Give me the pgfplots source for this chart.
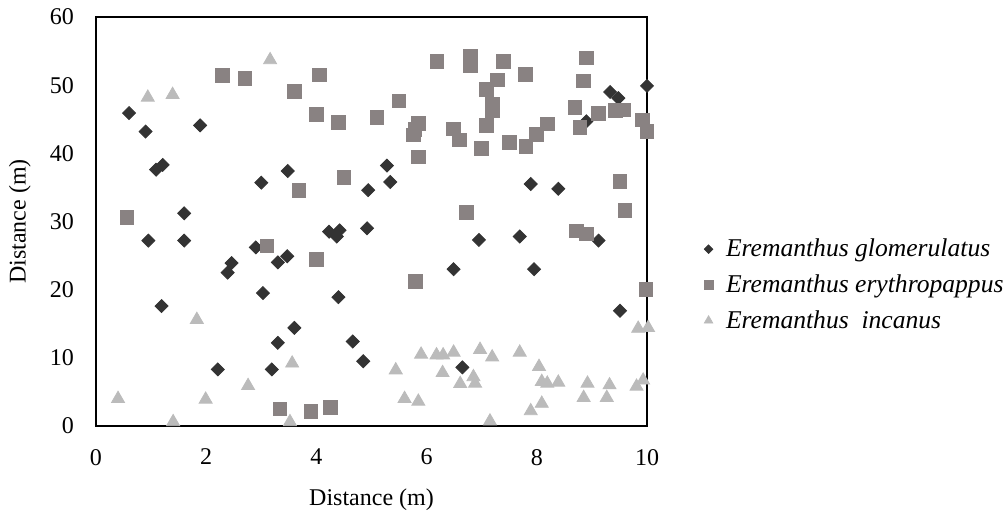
\documentclass[border=0pt]{standalone}
\usepackage{fontspec}
\setmainfont{Liberation Serif}
\usepackage{pgfplots}
\pgfplotsset{compat=1.18}
\usetikzlibrary{calc}
\definecolor{glom}{RGB}{51,51,51}
\definecolor{eryt}{RGB}{137,130,130}
\definecolor{inca}{RGB}{187,187,187}
\begin{document}
\begin{tikzpicture}
\begin{axis}[
    name=ax,
    scale only axis,
    width=275.5pt,
    height=204.5pt,
    xmin=0, xmax=10,
    ymin=0, ymax=60,
    xtick={0,2,...,10},
    ytick={0,10,...,60},
    major tick length=0pt,
    axis line style={line width=1.2pt},
    clip=false,
    font=\fontsize{12}{14}\selectfont,
    /pgf/number format/assume math mode=true,
    yticklabel style={xshift=-7.5pt},
    xticklabel style={yshift=-8pt},
    xlabel={Distance (m)},
    ylabel={Distance (m)},
    xlabel style={at={(axis description cs:0.5,-0.181)}, anchor=center},
    ylabel style={at={(axis description cs:-0.138,0.5)}, anchor=center, rotate=0},
    legend style={draw=none, fill=none, font=\fontsize{12.8}{14.5}\selectfont\itshape,
        at={(axis description cs:1.103,0.345)}, anchor=west,
        row sep=3.5pt, inner sep=0pt,
        /tikz/every odd column/.append style={column sep=4.5pt}},
    legend image post style={every mark/.append style={scale=0.65}},
    legend cell align=left,
]

\addplot[only marks, mark=square*, mark size=2.3pt, mark options={rotate=45, fill=glom, draw=glom}] coordinates {
(0.60,45.9) (0.90,43.2) (1.09,37.6) (1.21,38.3) (1.89,44.1)
(0.95,27.2) (1.60,31.2) (1.60,27.2) (1.19,17.6) (2.21,8.3)
(2.39,22.5) (2.46,23.9) (2.90,26.2) (3.00,35.7) (3.03,19.5)
(3.19,8.3) (3.30,24.0) (3.30,12.2) (3.47,24.9) (3.48,37.4)
(3.60,14.4) (4.23,28.5) (4.42,28.7) (4.37,27.8) (4.40,18.9)
(4.66,12.4) (4.85,9.5) (4.92,29.0) (4.94,34.6) (5.28,38.2)
(5.34,35.8) (6.49,23.0) (6.65,8.6) (6.95,27.3) (7.69,27.8)
(7.89,35.5) (7.95,23.0) (8.39,34.8) (8.90,44.7) (9.12,27.2)
(9.33,49.0) (9.48,48.1) (9.51,16.9) (10.0,49.9)
};
\addlegendentry{Eremanthus glomerulatus}

\addplot[only marks, mark=square*, mark size=3.4pt, mark options={fill=eryt, draw=eryt}] coordinates {
(0.56,30.6) (2.29,51.4) (2.70,51.0) (3.10,26.4) (3.34,2.5)
(3.60,49.1) (3.68,34.6) (3.90,2.15) (4.00,24.4) (4.00,45.7)
(4.05,51.5) (4.25,2.7) (4.40,44.5) (4.50,36.5) (5.10,45.3)
(5.50,47.7) (5.76,42.7) (5.79,43.5) (5.80,21.2) (5.85,44.4)
(5.85,39.5) (6.19,53.5) (6.49,43.6) (6.59,42.0) (6.72,31.3)
(6.79,54.2) (6.79,52.8) (6.99,40.7) (7.09,49.4) (7.09,44.1)
(7.19,47.2) (7.19,46.3) (7.29,50.8) (7.39,53.5) (7.50,41.6)
(7.79,51.6) (7.80,41.0) (7.99,42.8) (8.19,44.3) (8.69,46.7)
(8.72,28.6) (8.78,43.8) (8.85,50.6) (8.90,54.0) (8.90,28.2)
(9.12,45.9) (9.43,46.3) (9.51,35.9) (9.57,46.4) (9.60,31.6)
(9.92,44.9) (9.98,20.0) (10.0,43.2)
};
\addlegendentry{Eremanthus erythropappus}

\addplot[only marks, mark=triangle*, mark size=3.75pt, mark options={fill=inca, draw=inca}] coordinates {
(0.40,4.0) (0.94,48.2) (1.39,48.6) (1.40,0.6) (1.83,15.6)
(1.99,3.9) (2.76,5.9) (3.16,53.7) (3.52,0.6) (3.56,9.2)
(5.44,8.2) (5.60,4.0) (5.85,3.6) (5.90,10.5) (6.18,10.4)
(6.29,7.8) (6.30,10.4) (6.49,10.8) (6.61,6.2) (6.85,7.2)
(6.88,6.25) (6.97,11.2) (7.15,0.7) (7.19,10.1) (7.69,10.8)
(7.89,2.2) (8.04,8.7) (8.09,6.5) (8.09,3.3) (8.19,6.25)
(8.39,6.4) (8.85,4.15) (8.92,6.25) (9.27,4.15) (9.32,6.0)
(9.81,5.8) (9.84,14.3) (9.93,6.7) (10.02,14.4)
};
\addlegendentry{Eremanthus~ incanus}

\end{axis}
\pgfresetboundingbox
\useasboundingbox ($(ax.south west)+(-48pt,-45.5pt)$) rectangle ($(ax.north east)+(179pt,8.5pt)$);
\end{tikzpicture}
\end{document}
